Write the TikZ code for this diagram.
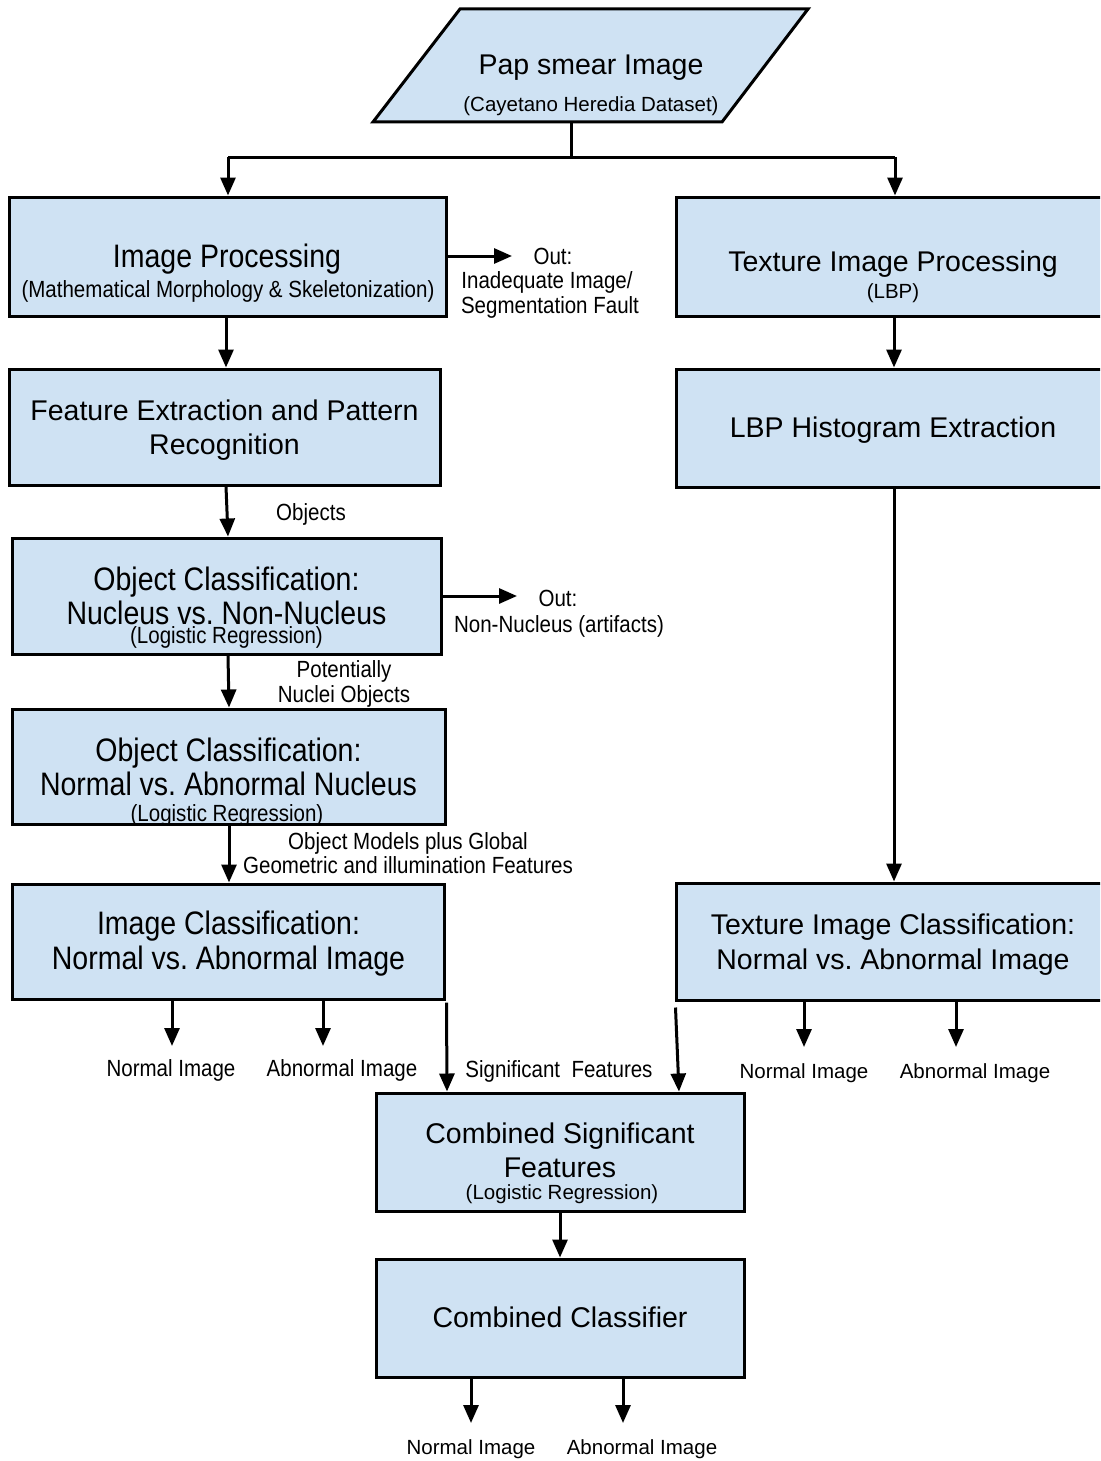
\documentclass[tikz,border=0pt]{standalone}
\usepackage{fontspec}
\setmainfont{Liberation Sans}
\newfontfamily\condfont[FakeStretch=0.877]{Liberation Sans}
\usetikzlibrary{arrows.meta}
\definecolor{boxblue}{HTML}{CFE2F3}
\frenchspacing
\begin{document}
\begin{tikzpicture}[x=1pt,y=-1pt,
 box/.style={draw=black, fill=boxblue, line width=3pt, inner sep=0pt, rectangle},
 ln/.style={line width=3pt},
 arr/.style={line width=3pt, -{Triangle[length=18pt,width=15pt]}},
 bigN/.style={anchor=base, inner sep=0pt, font=\fontsize{28.5}{34}\selectfont},
 smallN/.style={anchor=base, inner sep=0pt, font=\fontsize{20.5}{24}\selectfont},
 bigC/.style={anchor=base, inner sep=0pt, font=\condfont\fontsize{32.5}{38}\selectfont},
 smallC/.style={anchor=base, inner sep=0pt, font=\condfont\fontsize{23.4}{28}\selectfont}]
\fill[white] (0,0) rectangle (1100,1461);
\clip (0,0) rectangle (1100,1461);

% input parallelogram
\filldraw[fill=boxblue, draw=black, line width=3pt] (460,9) -- (808,9) -- (722,122) -- (373,122) -- cycle;
\node[bigN] (papt) at (591,75) {Pap smear Image};
\node[smallN] (paps) at (591,112) {(Cayetano Heredia Dataset)};
\coordinate (papb) at (571,122);
\coordinate (split) at (571,157);
\coordinate (bl) at (228,157);
\coordinate (br) at (895,157);

% boxes
\node[box, minimum width=437pt, minimum height=119pt] (ip) at (227.5,256.5) {};
\node[box, minimum width=431pt, minimum height=116pt] (fe) at (224.5,427) {};
\node[box, minimum width=429pt, minimum height=116pt] (oc1) at (226.5,596) {};
\node[box, minimum width=433pt, minimum height=115pt] (oc2) at (228.5,766.5) {};
\node[box, minimum width=432pt, minimum height=115pt] (ic) at (228,941.5) {};
\node[box, minimum width=434pt, minimum height=119pt] (tip) at (893,256.5) {};
\node[box, minimum width=434pt, minimum height=118pt] (lbp) at (893,428) {};
\node[box, minimum width=434pt, minimum height=117pt] (tic) at (893,941.5) {};
\node[box, minimum width=368pt, minimum height=118pt] (csf) at (560,1152) {};
\node[box, minimum width=368pt, minimum height=118pt] (cc) at (560,1318) {};

% box texts
\node[bigC] (ip1) at (227,267) {Image Processing};
\node[smallC] (ip2) at (228,297.5) {(Mathematical Morphology \& Skeletonization)};
\node[bigN] (fe1) at (224.5,420) {Feature Extraction and Pattern};
\node[bigN] (fe2) at (224.5,454) {Recognition};
\node[bigC] (oc11) at (226.5,590.5) {Object Classification:};
\node[bigC] (oc12) at (226.5,624.5) {Nucleus vs. Non-Nucleus};
\node[smallC] (oc13) at (226.5,643.5) {(Logistic Regression)};
\node[bigC] (oc21) at (228.5,761.5) {Object Classification:};
\node[bigC] (oc22) at (228.5,795.5) {Normal vs. Abnormal Nucleus};
\node[smallC] (oc23) at (227,821) {(Logistic Regression)};
\node[bigC] (ic1) at (228.5,934.5) {Image Classification:};
\node[bigC] (ic2) at (228.5,969) {Normal vs. Abnormal Image};
\node[bigN] (tip1) at (893,271) {Texture Image Processing};
\node[smallN] (tip2) at (893,298) {(LBP)};
\node[bigN] (lbp1) at (893,437) {LBP Histogram Extraction};
\node[bigN] (tic1) at (893,934) {Texture Image Classification:};
\node[bigN] (tic2) at (893,969) {Normal vs. Abnormal Image};
\node[bigN] (csf1) at (560,1143.5) {Combined Significant};
\node[bigN] (csf2) at (560,1177.5) {Features};
\node[smallN] (csf3) at (562,1199) {(Logistic Regression)};
\node[bigN] (cc1) at (560,1327.5) {Combined Classifier};

% side labels
\node[smallC] (out1a) at (553,264) {Out:};
\node[smallC] (out1b) at (547,288.5) {Inadequate Image/};
\node[smallC] (out1c) at (550,313) {Segmentation Fault};
\node[smallC] (objl) at (311,520) {Objects};
\node[smallC] (out2a) at (558,606) {Out:};
\node[smallC] (out2b) at (559,632) {Non-Nucleus (artifacts)};
\node[smallC] (pot1) at (344,677) {Potentially};
\node[smallC] (pot2) at (344,702) {Nuclei Objects};
\node[smallC] (om1) at (408,849.5) {Object Models plus Global};
\node[smallC] (om2) at (408,873.5) {Geometric and illumination Features};
\node[smallC] (ln1) at (171,1076.5) {Normal Image};
\node[smallC] (la1) at (342,1076.5) {Abnormal Image};
\node[smallC] (sig) at (559,1077.5) {Significant\ \ Features};
\node[smallN] (rn1) at (804,1078) {Normal Image};
\node[smallN] (ra1) at (975,1078) {Abnormal Image};
\node[smallN] (bn1) at (471,1454) {Normal Image};
\node[smallN] (ba1) at (642,1454) {Abnormal Image};

% free ends
\coordinate (o1) at (512,256);
\coordinate (o2) at (517,596);
\coordinate (e1) at (172,1046);
\coordinate (e2) at (323,1046);
\coordinate (e3) at (804,1047);
\coordinate (e4) at (956,1047);
\coordinate (e5) at (471,1423);
\coordinate (e6) at (623,1423);

% connectors
\draw[ln] (papb) -- (split);
\draw[ln] (bl) -- (br);
\draw[arr] (bl) -- (bl |- ip.north);
\draw[arr] (br) -- (br |- tip.north);
\draw[arr] (ip.east |- o1) -- (o1);
\draw[arr] (226,0 |- ip.south) -- (226,0 |- fe.north);
\draw[arr] (226,0 |- fe.south) -- (228,0 |- oc1.north);
\draw[arr] (oc1.east |- o2) -- (o2);
\draw[arr] (228,0 |- oc1.south) -- (229,0 |- oc2.north);
\draw[arr] (229,0 |- oc2.south) -- (229,0 |- ic.north);
\draw[arr] (e1 |- ic.south) -- (e1);
\draw[arr] (e2 |- ic.south) -- (e2);
\draw[arr] ([xshift=1pt,yshift=-2pt]ic.south east) -- (447,0 |- csf.north);
\draw[arr] (894,0 |- tip.south) -- (894,0 |- lbp.north);
\draw[arr] (894,0 |- lbp.south) -- (894,0 |- tic.north);
\draw[arr] (e3 |- tic.south) -- (e3);
\draw[arr] (e4 |- tic.south) -- (e4);
\draw[arr] ([xshift=1pt,yshift=-6pt]tic.south west) -- (679,0 |- csf.north);
\draw[arr] (csf.south) -- (cc.north);
\draw[arr] (e5 |- cc.south) -- (e5);
\draw[arr] (e6 |- cc.south) -- (e6);
\end{tikzpicture}
\end{document}
